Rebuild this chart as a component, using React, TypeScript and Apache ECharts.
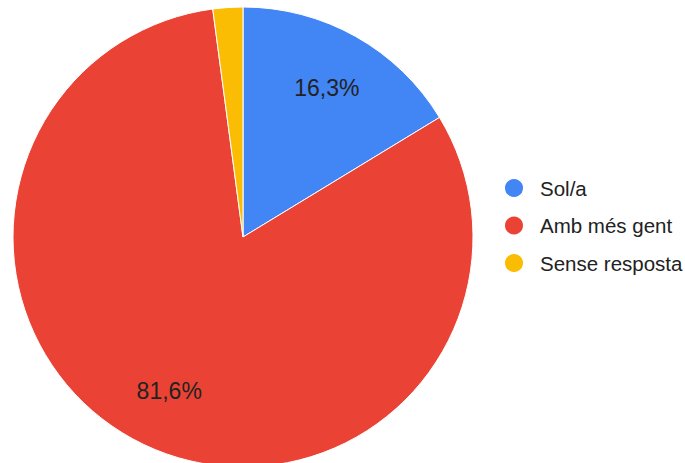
import React, { useEffect, useRef } from "react";
import * as echarts from "echarts";

const categories = ["Sol/a", "Amb més gent", "Sense resposta"];
const values = [16.3, 81.6, 2.1];
const colors = ["#4285F4", "#EA4335", "#FBBC04"];
const shownLabels = [true, true, false];

export default function App() {
  const ref = useRef<HTMLDivElement>(null);
  useEffect(() => {
    document.body.style.margin = "0";
    const chart = echarts.init(ref.current!, null, { renderer: "svg" });
    const data = categories.map((name, i) => ({
      name,
      value: values[i],
      itemStyle: { color: colors[i] },
    }));
    const fmt = (v: number) => v.toFixed(1).replace(".", ",") + "%";
    chart.setOption({
      animation: false,
      backgroundColor: "#ffffff",
      legend: {
        orient: "vertical",
        left: 503,
        top: 177,
        padding: 0,
        icon: "circle",
        itemWidth: 20,
        itemHeight: 20,
        itemGap: 15.5,
        textStyle: {
          fontFamily: "Liberation Sans, Arial, sans-serif",
          fontSize: 20.5,
          lineHeight: 20,
          color: "#222222",
          padding: [0, 0, 0, 11],
        },
        data: categories.map((name, i) => ({ name, itemStyle: { color: colors[i] } })),
      },
      series: [
        {
          type: "pie",
          center: [243, 237],
          radius: [0, 230],
          startAngle: 90,
          clockwise: true,
          label: { show: false },
          labelLine: { show: false },
          itemStyle: { borderColor: "#ffffff", borderWidth: 1 },
          emphasis: { disabled: true },
          data,
        },
        {
          type: "pie",
          center: [243, 237],
          radius: [106, 230],
          startAngle: 90,
          clockwise: true,
          silent: true,
          itemStyle: { color: "rgba(0,0,0,0)", borderWidth: 0 },
          labelLine: { show: false },
          emphasis: { disabled: true },
          label: {
            show: true,
            position: "inside",
            fontFamily: "Liberation Sans, Arial, sans-serif",
            fontSize: 23,
            color: "#222222",
            formatter: (p: any) => (shownLabels[p.dataIndex] ? fmt(p.value) : ""),
          },
          data: categories.map((name, i) => ({ name, value: values[i] })),
        },
      ],
    });
    return () => chart.dispose();
  }, []);
  return <div ref={ref} style={{ width: 685, height: 463 }} />;
}
